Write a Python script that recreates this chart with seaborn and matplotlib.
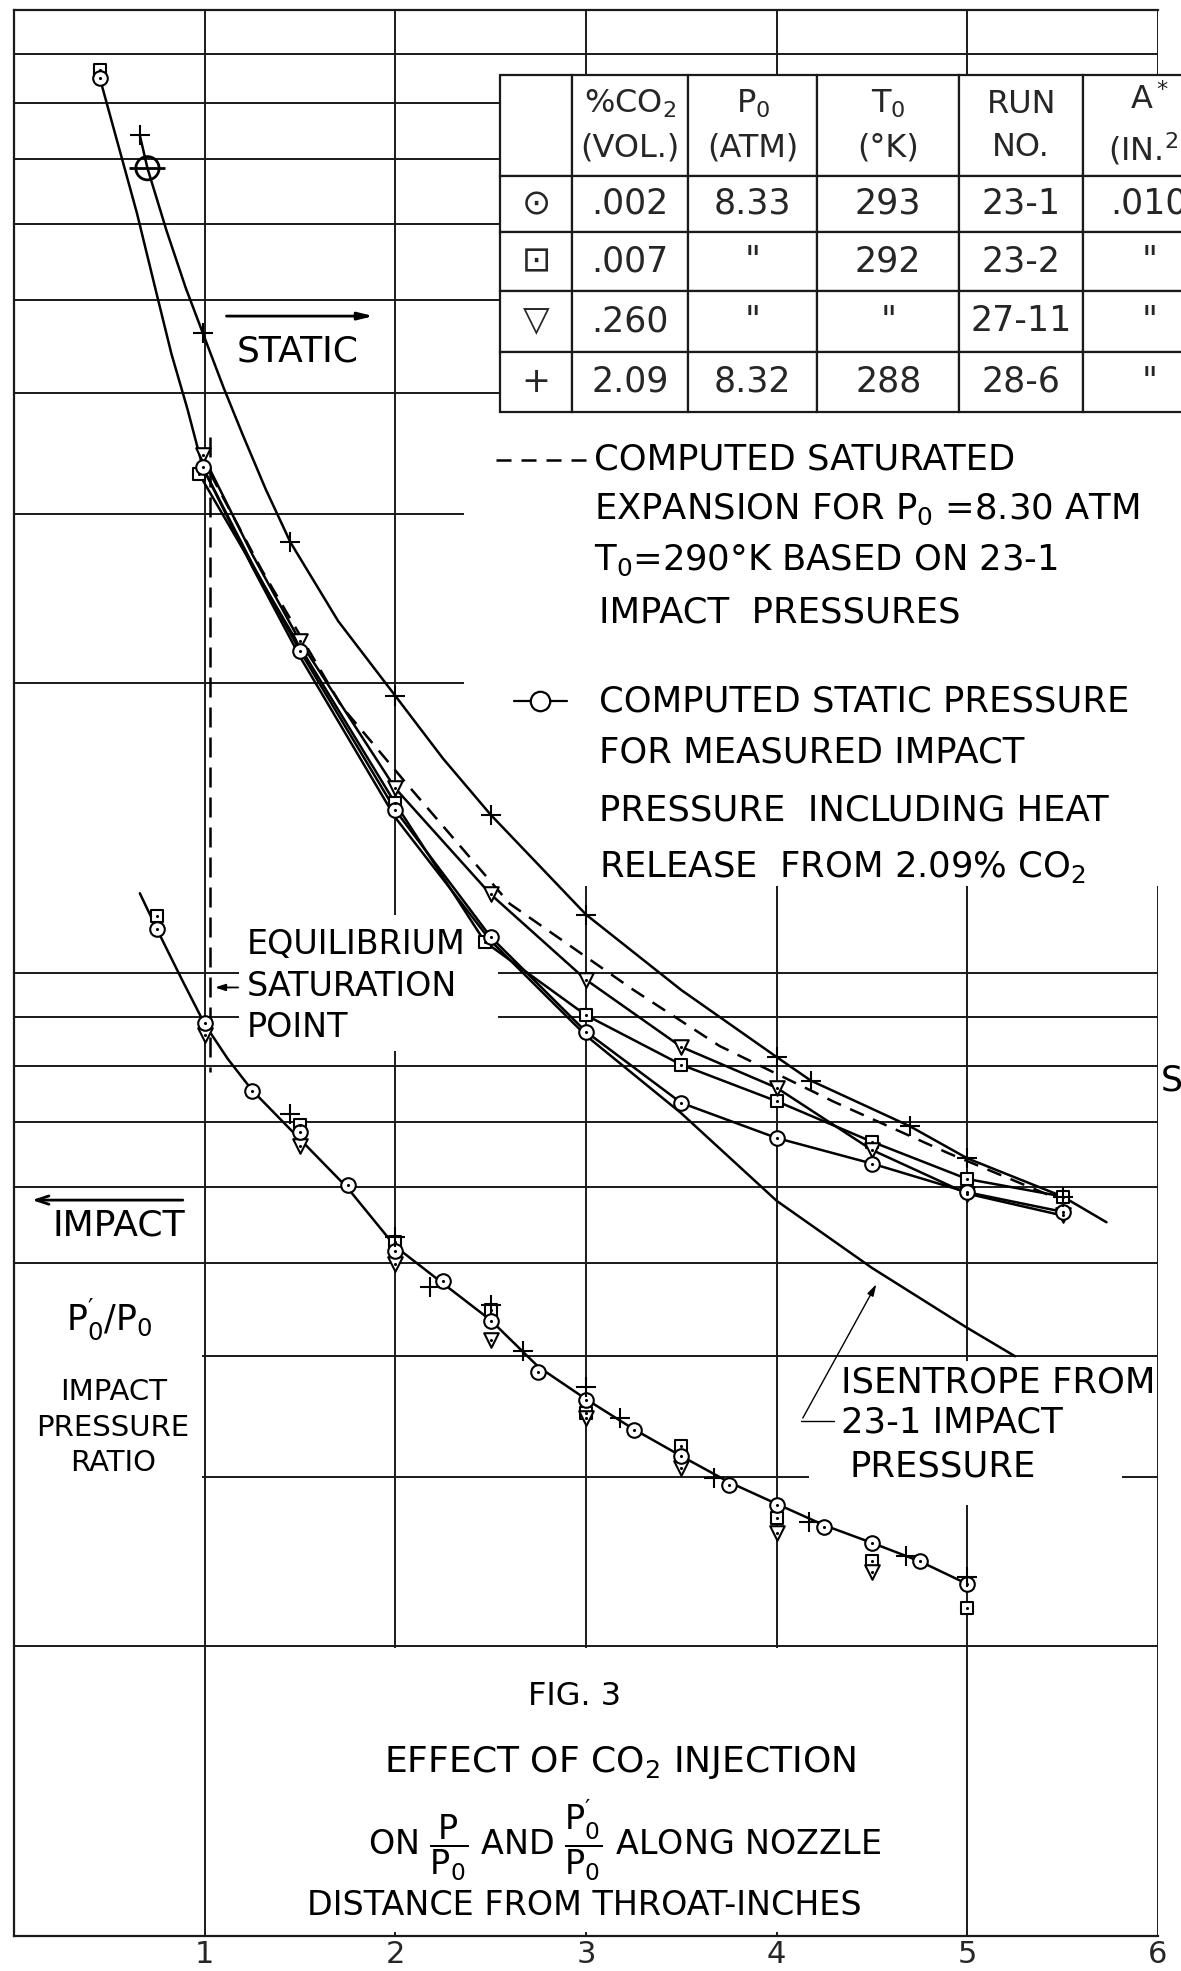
import numpy as np
import matplotlib
matplotlib.use("Agg")
import matplotlib.pyplot as plt
import matplotlib.ticker as mticker
from matplotlib.patches import Rectangle
import seaborn as sns

# ---------------- data ----------------
# Static pressure ratio P/P0 (upper family) - measured points
static_circle_x = [0.45, 0.99, 1.5, 2.0, 2.5, 3.0, 3.5, 4.0, 4.5, 5.0, 5.5]
static_circle_y = [0.850, 0.335, 0.216, 0.1476, 0.109, 0.0869, 0.0733, 0.0674, 0.0634, 0.0592, 0.0565]
static_square_x = [0.45, 0.97, 2.0, 2.47, 3.0, 3.5, 4.0, 4.5, 5.0, 5.5]
static_square_y = [0.866, 0.330, 0.150, 0.1077, 0.0904, 0.0803, 0.0736, 0.0668, 0.0611, 0.0586]
static_tri_x = [0.99, 1.5, 2.0, 2.5, 3.0, 3.5, 4.0, 4.5, 5.0, 5.5]
static_tri_y = [0.345, 0.221, 0.1555, 0.1207, 0.0984, 0.0838, 0.0760, 0.0655, 0.0590, 0.0560]
static_plus_x = [0.66, 0.99, 1.45, 2.0, 2.5, 3.0, 4.0, 4.18, 4.7, 5.0, 5.5]
static_plus_y = [0.741, 0.462, 0.280, 0.194, 0.146, 0.115, 0.0818, 0.0773, 0.0693, 0.0642, 0.0586]
computed_static_x = [0.70]
computed_static_y = [0.685]

# Faired curves drawn through the static data
curve_circle_x = [0.45, 0.55, 0.645, 0.74, 0.825, 0.91, 0.99, 1.25, 1.5, 2.0, 2.5, 3.0, 3.5, 4.0, 4.5, 5.0, 5.5]
curve_circle_y = [0.850, 0.720, 0.615, 0.515, 0.440, 0.385, 0.335, 0.266, 0.216, 0.1476, 0.109, 0.0869, 0.0733, 0.0674, 0.0634, 0.0592, 0.0565]
curve_square_x = [0.97, 1.5, 2.0, 2.47, 3.0, 3.5, 4.0, 4.5, 5.0, 5.5]
curve_square_y = [0.330, 0.218, 0.150, 0.1077, 0.0904, 0.0803, 0.0736, 0.0668, 0.0611, 0.0586]
curve_tri_x = [0.99, 1.25, 1.5, 2.0, 2.5, 3.0, 3.5, 4.0, 4.5, 5.0, 5.5]
curve_tri_y = [0.345, 0.272, 0.221, 0.1555, 0.1207, 0.0984, 0.0838, 0.0760, 0.0655, 0.0590, 0.0560]
curve_plus_x = [0.66, 0.70, 0.80, 0.90, 0.99, 1.1, 1.2, 1.32, 1.45, 1.7, 2.0, 2.25, 2.5, 3.0, 3.5, 4.0, 4.18, 4.7, 5.0, 5.5, 5.73]
curve_plus_y = [0.741, 0.685, 0.590, 0.515, 0.462, 0.405, 0.362, 0.318, 0.280, 0.232, 0.194, 0.167, 0.146, 0.115, 0.096, 0.0818, 0.0773, 0.0693, 0.0642, 0.0586, 0.0551]
isentrope_x = [0.99, 1.25, 1.5, 2.0, 2.5, 3.0, 3.5, 4.0, 4.5, 5.0, 5.25]
isentrope_y = [0.335, 0.264, 0.213, 0.145, 0.108, 0.0861, 0.0715, 0.058, 0.0494, 0.0428, 0.0400]
saturated_x = [1.03, 1.3, 1.72, 2.05, 2.6, 3.25, 3.7, 4.3, 4.9, 5.5]
saturated_y = [0.330, 0.262, 0.189, 0.158, 0.118, 0.096, 0.084, 0.0735, 0.065, 0.058]
saturation_x = [1.03, 1.03]
saturation_y = [0.36, 0.079]

# Impact pressure ratio P0'/P0 (lower family)
impact_curve_x = [0.66, 0.75, 0.88, 1.0, 1.12, 1.25, 1.5, 1.75, 2.0, 2.25, 2.5, 2.75, 3.0, 3.25, 3.5, 3.75, 4.0, 4.25, 4.5, 4.75, 5.0]
impact_curve_y = [0.1210, 0.111, 0.0985, 0.0885, 0.0815, 0.0755, 0.0672, 0.0598, 0.0520, 0.0476, 0.0436, 0.0390, 0.0361, 0.0336, 0.0315, 0.0296, 0.0281, 0.0267, 0.0256, 0.0245, 0.0232]
impact_circle_x = [0.75, 1.0, 1.25, 1.5, 1.75, 2.0, 2.25, 2.5, 2.75, 3.0, 3.25, 3.5, 3.75, 4.0, 4.25, 4.5, 4.75, 5.0]
impact_circle_y = [0.111, 0.0887, 0.0755, 0.0683, 0.0602, 0.0514, 0.0479, 0.0435, 0.0385, 0.0360, 0.0335, 0.0315, 0.0294, 0.0280, 0.0266, 0.0256, 0.0245, 0.0232]
impact_square_x = [0.75, 1.5, 2.0, 2.5, 3.0, 3.5, 4.0, 4.5, 5.0]
impact_square_y = [0.1145, 0.0695, 0.0525, 0.0447, 0.0349, 0.0323, 0.0272, 0.0245, 0.0219]
impact_tri_x = [1.0, 1.5, 2.0, 2.5, 3.0, 3.5, 4.0, 4.5]
impact_tri_y = [0.0862, 0.0662, 0.0499, 0.0416, 0.0345, 0.0306, 0.0262, 0.0239]
impact_plus_x = [1.45, 2.0, 2.18, 2.5, 2.67, 3.0, 3.18, 3.67, 4.17, 4.68, 5.0]
impact_plus_y = [0.0713, 0.0532, 0.0472, 0.0452, 0.0405, 0.0372, 0.0345, 0.0299, 0.0269, 0.0248, 0.0236]

# Axes / graph paper
x_ticks = [1, 2, 3, 4, 5, 6]
x_tick_labels = ["1", "2", "3", "4", "5", "6"]
grid_y = [0.02, 0.03, 0.04, 0.05, 0.06, 0.07, 0.08, 0.09,
          0.1, 0.2, 0.3, 0.4, 0.5, 0.6, 0.7, 0.8, 0.9]

# Run table
table_header = ["", "%CO$_2$\n(VOL.)", "P$_0$\n(ATM)", "T$_0$\n(°K)", "RUN\nNO.", "A$^*$\n(IN.$^2$)"]
table_rows = [
    ["\u2299", ".002", "8.33", "293", "23-1", ".010"],
    ["\u22a1", ".007", "\"", "292", "23-2", "\""],
    ["\u25bd", ".260", "\"", "\"", "27-11", "\""],
    ["+", "2.09", "8.32", "288", "28-6", "\""],
]

# ---------------- figure ----------------
sns.set_style("white")
plt.rcParams["font.family"] = ["DejaVu Sans"]
plt.rcParams["mathtext.default"] = "regular"

W, H = 1181, 1971
fig = plt.figure(figsize=(W / 100, H / 100), dpi=100)
ax = fig.add_axes([14 / W, 35 / H, 1144 / W, 1926 / H])
ax.set_yscale("log")
ax.set_xlim(0, 6)
ax.set_ylim(0.01, 1.0)

ax.set_xticks(x_ticks)
ax.set_xticklabels(x_tick_labels, fontsize=22)
ax.set_yticks(grid_y)
ax.yaxis.set_minor_locator(mticker.NullLocator())
ax.yaxis.set_major_formatter(mticker.NullFormatter())
ax.tick_params(axis="both", length=0, pad=3)
ax.set_axisbelow(True)
ax.grid(True, which="major", color="#1a1a1a", lw=1.4)
for side in ["left", "top", "bottom"]:
    ax.spines[side].set_color("#1a1a1a")
    ax.spines[side].set_linewidth(1.6)
ax.spines["right"].set_visible(False)

# blank (label) regions of the graph paper
blank_regions = [
    (2.36, 0.123, 6.0, 0.3825),
    (1.18, 0.083, 2.54, 0.115),
    (0.004, 0.0215, 0.985, 0.0485),
    (4.17, 0.028, 5.81, 0.0395),
    (1.03, 0.0101, 4.97, 0.0199),
]
for x0, y0, x1, y1 in blank_regions:
    ax.add_patch(Rectangle((x0, y0), x1 - x0, y1 - y0, facecolor="white",
                           edgecolor="none", zorder=1))

LW = 1.8
def curve(x, y, ls="-"):
    sns.lineplot(x=x, y=y, sort=False, estimator=None, color="black", lw=LW,
                 linestyle=ls, ax=ax, zorder=3, legend=False)

curve(curve_circle_x, curve_circle_y)
curve(curve_square_x, curve_square_y)
curve(curve_tri_x, curve_tri_y)
curve(curve_plus_x, curve_plus_y)
curve(isentrope_x, isentrope_y)
curve(saturated_x, saturated_y, ls=(0, (6, 4)))
curve(saturation_x, saturation_y, ls=(0, (8, 4)))
curve(impact_curve_x, impact_curve_y)

def dotted(x, y, marker, s):
    sns.scatterplot(x=x, y=y, marker=marker, s=s, color="black", facecolor="white",
                    edgecolor="black", linewidth=1.5, ax=ax, zorder=5, legend=False)
    sns.scatterplot(x=x, y=y, marker="o", s=5, color="black", edgecolor="black",
                    linewidth=0, ax=ax, zorder=6, legend=False)

def plus(x, y):
    sns.scatterplot(x=x, y=y, marker="+", s=200, color="black", linewidth=1.5,
                    ax=ax, zorder=6, legend=False)

dotted(static_square_x, static_square_y, "s", 80)
dotted(static_tri_x, static_tri_y, "v", 110)
dotted(static_circle_x, static_circle_y, "o", 110)
plus(static_plus_x, static_plus_y)
sns.scatterplot(x=computed_static_x, y=computed_static_y, marker="o", s=280, color="black",
                facecolor="none", edgecolor="black", linewidth=2.0, ax=ax, zorder=6, legend=False)
sns.scatterplot(x=computed_static_x, y=computed_static_y, marker="_", s=700, color="black",
                linewidth=2.0, ax=ax, zorder=6, legend=False)

dotted(impact_square_x, impact_square_y, "s", 80)
dotted(impact_tri_x, impact_tri_y, "v", 110)
dotted(impact_circle_x, impact_circle_y, "o", 110)
plus(impact_plus_x, impact_plus_y)

# ---------------- table ----------------
ymin, ymax = 0.01, 1.0
def fy(v):
    return (np.log10(v) - np.log10(ymin)) / (np.log10(ymax) - np.log10(ymin))
tx0, tx1, ty0, ty1 = 2.55, 6.30, 0.3825, 0.856
tab = ax.table(cellText=table_rows, colLabels=table_header, cellLoc="center",
               bbox=[tx0 / 6, fy(ty0), (tx1 - tx0) / 6, fy(ty1) - fy(ty0)])
tab.auto_set_font_size(False)
col_w = [72, 116, 129, 142, 124, 132]
row_h = [101, 56, 59, 61, 60]
for (r, c), cell in tab.get_celld().items():
    cell.set_width(col_w[c])
    cell.set_height(row_h[r])
    cell.set_facecolor("white")
    cell.set_edgecolor("#1a1a1a")
    cell.set_linewidth(1.6)
    cell.get_text().set_fontsize(23 if r == 0 else 25)
    cell.get_text().set_linespacing(1.5)
tab.set_zorder(4)

# ---------------- annotations ----------------
TXT = dict(color="black", zorder=4)
ax.annotate("", xy=(1.90, 0.481), xytext=(1.10, 0.481),
            arrowprops=dict(arrowstyle="-|>,head_length=0.9,head_width=0.22", lw=2, color="black"))
ax.text(1.49, 0.442, "STATIC", ha="center", va="center", fontsize=26, **TXT)

ax.annotate("", xy=(0.08, 0.0581), xytext=(0.90, 0.0581),
            arrowprops=dict(arrowstyle="->,head_length=0.9,head_width=0.3", lw=2, color="black"))
ax.text(0.55, 0.0547, "IMPACT", ha="center", va="center", fontsize=26, **TXT)
ax.text(0.50, 0.0437, r"$P_0^{\prime}/P_0$", ha="center", va="center", fontsize=25, **TXT)
for yy, s in zip([0.0367, 0.0337, 0.0310], ["IMPACT", "PRESSURE", "RATIO"]):
    ax.text(0.52, yy, s, ha="center", va="center", fontsize=21, **TXT)

for yy, s in zip([0.107, 0.0969, 0.0877], ["EQUILIBRIUM", "SATURATION", "POINT"]):
    ax.text(1.22, yy, s, ha="left", va="center", fontsize=24, **TXT)
ax.annotate("", xy=(1.04, 0.0966), xytext=(1.19, 0.0966),
            arrowprops=dict(arrowstyle="-|>,head_length=0.6,head_width=0.2", lw=1.3, color="black"))

# legend keys
ax.plot([2.53, 3.01], [0.341, 0.341], color="black", lw=LW, ls=(0, (6, 4)), zorder=3)
for yy, s, xx in zip([0.341, 0.303, 0.268, 0.237],
                     ["COMPUTED SATURATED", "EXPANSION FOR P$_0$ =8.30 ATM",
                      "T$_0$=290°K BASED ON 23-1", "IMPACT  PRESSURES"],
                     [3.04, 3.04, 3.04, 3.07]):
    ax.text(xx, yy, s, ha="left", va="center", fontsize=25.5, **TXT)
ax.plot([2.62, 2.90], [0.1916, 0.1916], color="black", lw=1.6, zorder=3)
ax.plot([2.76], [0.1916], marker="o", ms=14, mfc="white", mec="black", mew=1.6, zorder=4)
for yy, s in zip([0.1916, 0.1694, 0.1476, 0.1289],
                 ["COMPUTED STATIC PRESSURE", "FOR MEASURED IMPACT",
                  "PRESSURE  INCLUDING HEAT", "RELEASE  FROM 2.09% CO$_2$"]):
    ax.text(3.07, yy, s, ha="left", va="center", fontsize=25.5, **TXT)

for yy, s, xx in zip([0.0376, 0.0341, 0.0307], ["ISENTROPE FROM", "23-1 IMPACT", "PRESSURE"],
                     [4.34, 4.34, 4.38]):
    ax.text(xx, yy, s, ha="left", va="center", fontsize=25.5, **TXT)
ax.plot([4.13, 4.30], [0.0343, 0.0343], color="black", lw=1.0, zorder=3)
ax.annotate("", xy=(4.53, 0.0478), xytext=(4.13, 0.0343),
            arrowprops=dict(arrowstyle="-|>,head_length=0.7,head_width=0.2", lw=1.0, color="black"))

ax.text(6.07, 0.0773, "S", ha="center", va="center", fontsize=25, clip_on=False, **TXT)

ax.text(2.94, 0.01775, "FIG. 3", ha="center", va="center", fontsize=23, **TXT)
ax.text(3.18, 0.01514, "EFFECT OF CO$_2$ INJECTION", ha="center", va="center", fontsize=26, **TXT)
ax.text(3.20, 0.01257, r"ON $\dfrac{P}{P_0}$ AND $\dfrac{P_0^{\prime}}{P_0}$ ALONG NOZZLE",
        ha="center", va="center", fontsize=24, **TXT)
ax.text(2.99, 0.01075, "DISTANCE FROM THROAT-INCHES", ha="center", va="center", fontsize=24, **TXT)

fig.savefig("out.png", dpi=100, facecolor="white")
